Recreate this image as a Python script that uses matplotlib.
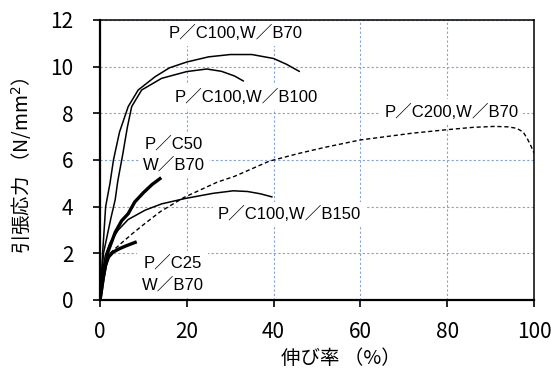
import numpy as np
import matplotlib
matplotlib.use("Agg")
import matplotlib.pyplot as plt

# ── data (strain %, stress N/mm²) ─────────────────────────────────
b70_x = [0, 0.6, 1.3, 2.3, 3.1, 4.5, 6.5, 8.8, 12.7, 16, 20, 25, 30, 35, 40, 43, 45.9]
b70_y = [0, 2.0, 4.0, 5.0, 6.0, 7.2, 8.29, 9.0, 9.57, 9.95, 10.2, 10.42, 10.52, 10.52, 10.35, 10.1, 9.8]

b100_x = [0, 0.8, 2.5, 3.5, 4.1, 5.2, 6.3, 7.3, 9.6, 14.2, 20, 24.6, 28, 31, 33]
b100_y = [0, 2.0, 3.5, 4.3, 5.1, 6.2, 7.4, 8.29, 9.0, 9.5, 9.79, 9.9, 9.8, 9.6, 9.39]

b150_x = [0, 0.4, 1.2, 2.3, 4.2, 6.5, 10.4, 14.2, 19.6, 26, 30.7, 34, 37, 39.6]
b150_y = [0, 1.0, 1.9, 2.45, 3.0, 3.45, 3.85, 4.12, 4.35, 4.57, 4.68, 4.65, 4.55, 4.42]

c50_x = [0, 0.8, 1.9, 3.5, 5, 6.5, 8, 10, 12, 13.8]
c50_y = [0, 1.0, 2.1, 2.9, 3.4, 3.7, 4.2, 4.6, 4.95, 5.2]

c25_x = [0, 0.6, 1.2, 2.0, 3, 4.5, 6, 8.1]
c25_y = [0, 0.8, 1.45, 1.85, 2.05, 2.2, 2.32, 2.47]

c200_x = [0, 0.5, 1.2, 2.3, 3.5, 5, 7.5, 10.5, 14, 19.4, 27, 31, 39, 46, 52, 60, 65,
          72, 80, 86, 91, 94, 96, 97.5, 98.5, 99.3, 100]
c200_y = [0, 0.9, 1.6, 2.0, 2.2, 2.45, 2.85, 3.3, 3.8, 4.4, 5.05, 5.3, 5.95, 6.29, 6.55,
          6.86, 6.98, 7.15, 7.3, 7.4, 7.44, 7.42, 7.36, 7.2, 6.9, 6.6, 6.3]

labels = ["P／C100,W／B70", "P／C100,W／B100", "P／C200,W／B70",
          "P／C50\nW／B70", "P／C25\nW／B70", "P／C100,W／B150"]
label_xy = [(31.3, 11.43), (33.8, 8.71), (81, 8.07),
            (17.1, 6.24), (16.7, 1.12), (43.5, 3.67)]

xticks = [0, 20, 40, 60, 80, 100]
yticks = [0, 2, 4, 6, 8, 10, 12]

# ── figure ────────────────────────────────────────────────────────
fig = plt.figure(figsize=(5.51, 3.69), dpi=100)
ax = fig.add_axes([100/551, 69/369, 434/551, 280/369])

ax.plot(b70_x, b70_y, color='black', lw=1.1, zorder=4)
ax.plot(b100_x, b100_y, color='black', lw=1.1, zorder=4)
ax.plot(b150_x, b150_y, color='black', lw=1.1, zorder=4)
ax.plot(c50_x, c50_y, color='black', lw=2.4, zorder=4)
ax.plot(c25_x, c25_y, color='black', lw=2.4, zorder=4)
ax.plot(c200_x, c200_y, color='black', lw=1.0, ls=(0, (3, 2)), zorder=4)

lab_font = ['Liberation Sans', 'Noto Sans CJK JP']
for txt, (x, y) in zip(labels, label_xy):
    ax.text(x, y, txt, ha='center', va='center', multialignment='center',
            fontsize=12, family=lab_font, linespacing=1.45, zorder=3,
            bbox=dict(boxstyle='square,pad=0.25', facecolor='white', edgecolor='none'))

ax.set_xlim(0, 100)
ax.set_ylim(0, 12)
ax.set_xticks(xticks)
ax.set_yticks(yticks)
ax.grid(True, color='#7fa3d6', lw=0.8, ls=(0, (2, 2)), zorder=1)
ax.set_axisbelow(True)

tick_font = ['Noto Sans CJK JP', 'DejaVu Sans']
for lab in ax.get_xticklabels() + ax.get_yticklabels():
    lab.set_family(tick_font)
    lab.set_fontsize(15)
ax.tick_params(axis='x', direction='out', length=5, width=1.2, pad=10)
ax.tick_params(axis='y', direction='out', length=5, width=1.2, pad=14)

for side in ['left', 'bottom']:
    ax.spines[side].set_linewidth(1.6)
for side in ['top', 'right']:
    ax.spines[side].set_linewidth(1.1)

ax.set_xlabel("伸び率 （%）", family=tick_font, fontsize=14, labelpad=0)
ax.xaxis.set_label_coords(0.556, -0.17)
ax.set_ylabel("引張応力 （N/mm$^2$）", family=tick_font, fontsize=14)
ax.yaxis.set_label_coords(-0.152, 0.479)

plt.savefig("out.png", dpi=100)
